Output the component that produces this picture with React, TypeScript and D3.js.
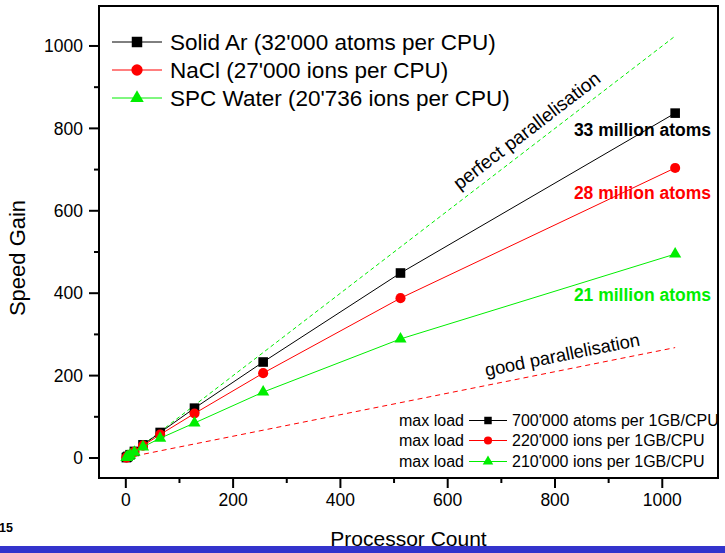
import React from 'react';
import * as d3 from 'd3';

const cpus = [1, 2, 4, 8, 16, 32, 64, 128, 256, 512, 1024];
const solidAr = [1, 2, 4, 8, 16, 32, 62, 121, 233, 449, 837];
const nacl = [1, 2, 4, 8, 15, 30, 57, 108, 206, 388, 704];
const water = [1, 2, 4, 7, 14, 27, 48, 85, 160, 289, 495];

const perfectX = [1, 1024];
const perfectY = [1, 1024];
const goodX = [1, 1024];
const goodY = [1, 268];

const xTicks = [0, 200, 400, 600, 800, 1000];
const yTicks = [0, 200, 400, 600, 800, 1000];

const seriesNames = [
  "Solid Ar (32'000 atoms per CPU)",
  "NaCl (27'000 ions per CPU)",
  "SPC Water (20'736 ions per CPU)",
];
const maxLoadNames = [
  "700'000 atoms per 1GB/CPU",
  "220'000 ions per 1GB/CPU",
  "210'000 ions per 1GB/CPU",
];
const totalLabels = ['33 million atoms', '28 million atoms', '21 million atoms'];

const FONT = 'Liberation Sans, Arial, sans-serif';

const App = () => {
  const width = 725;
  const height = 553;
  const box = { left: 99, right: 718, top: 6, bottom: 478 };

  const x = d3.scaleLinear().domain([-50, 1102]).range([box.left, box.right - 1]);
  const y = d3.scaleLinear().domain([-48.5, 1097]).range([box.bottom, box.top]);

  const colors = ['#000000', '#ff0000', '#00ee00'];
  const symbols = [d3.symbolSquare, d3.symbolCircle, d3.symbolTriangle];
  const sizes = [92, 80, 64];
  const series = [solidAr, nacl, water];

  const line = d3.line<[number, number]>()
    .x(d => x(d[0]))
    .y(d => y(d[1]));

  const pts = (xs: number[], ys: number[]) => xs.map((v, i) => [v, ys[i]] as [number, number]);

  const angleOf = (xs: number[], ys: number[]) =>
    (Math.atan2(y(ys[1]) - y(ys[0]), x(xs[1]) - x(xs[0])) * 180) / Math.PI;
  const perfAngle = angleOf(perfectX, perfectY);
  const goodAngle = angleOf(goodX, goodY);
  const goodSlope = goodY[1] / goodX[1];

  const minorX = d3.range(100, 1100, 200);
  const minorY = d3.range(100, 1100, 200);

  return (
    <svg width={width} height={height} style={{ position: 'absolute', left: 0, top: 0 }} fontFamily={FONT}>
      <rect width={width} height={height} fill="#fff" />

      {/* reference lines */}
      <path d={line(pts(perfectX, perfectY)) || ''} fill="none" stroke="#00ee00" strokeWidth={1} strokeDasharray="4,3" />
      <path d={line(pts(goodX, goodY)) || ''} fill="none" stroke="#ff0000" strokeWidth={1} strokeDasharray="5,4" />

      <g transform={`translate(${x(632)},${y(632)}) rotate(${perfAngle})`}>
        <text x={0} y={-9} fontSize={19}>perfect parallelisation</text>
      </g>
      <g transform={`translate(${x(675)},${y(675 * goodSlope)}) rotate(${goodAngle})`}>
        <text x={0} y={-9} fontSize={18.3}>good parallelisation</text>
      </g>

      {/* series */}
      {series.map((s, i) => (
        <g key={`s-${i}`}>
          <path d={line(pts(cpus, s)) || ''} fill="none" stroke={colors[i]} strokeWidth={1} />
          {s.map((v, j) => (
            <path
              key={j}
              transform={`translate(${x(cpus[j])},${y(v)})`}
              d={d3.symbol().type(symbols[i]).size(sizes[i])() || ''}
              fill={colors[i]}
            />
          ))}
        </g>
      ))}

      {totalLabels.map((t, i) => (
        <text key={t} x={711} y={[136, 199, 301][i]} textAnchor="end" fontSize={17.5} fontWeight="bold" fill={colors[i]}>
          {t}
        </text>
      ))}

      {/* top legend */}
      {seriesNames.map((n, i) => {
        const ry = 42 + i * 28;
        return (
          <g key={n}>
            <line x1={112} x2={162} y1={ry} y2={ry} stroke={colors[i]} strokeWidth={1} />
            <path transform={`translate(137,${ry})`} d={d3.symbol().type(symbols[i]).size([110, 100, 80][i])() || ''} fill={colors[i]} />
            <text x={170} y={ry + 8} fontSize={22.5}>{n}</text>
          </g>
        );
      })}

      {/* bottom legend */}
      {maxLoadNames.map((n, i) => {
        const ry = [420.5, 440.5, 461.5][i];
        return (
          <g key={n}>
            <text x={399} y={ry + 5.5} fontSize={16}>max load</text>
            <line x1={469} x2={507} y1={ry} y2={ry} stroke={colors[i]} strokeWidth={1} />
            <path transform={`translate(488,${ry})`} d={d3.symbol().type(symbols[i]).size([56, 52, 48][i])() || ''} fill={colors[i]} />
            <text x={512} y={ry + 5.5} fontSize={16}>{n}</text>
          </g>
        );
      })}

      {/* frame */}
      <rect x={box.left} y={box.top} width={box.right - box.left} height={box.bottom - box.top} fill="none" stroke="#000" strokeWidth={2} />
      <rect x={0} y={0} width={width} height={box.top - 1} fill="#fff" />

      {/* y axis */}
      {yTicks.map(t => (
        <g key={`yt-${t}`}>
          <line x1={box.left - 10} x2={box.left} y1={y(t)} y2={y(t)} stroke="#000" strokeWidth={2} />
          <text x={83} y={y(t)} dy="0.36em" textAnchor="end" fontSize={17.5}>{t}</text>
        </g>
      ))}
      {minorY.map(t => (
        <line key={`ym-${t}`} x1={box.left - 5} x2={box.left} y1={y(t)} y2={y(t)} stroke="#000" strokeWidth={2} />
      ))}

      {/* x axis */}
      {xTicks.map(t => (
        <g key={`xt-${t}`}>
          <line x1={x(t)} x2={x(t)} y1={box.bottom} y2={box.bottom + 10} stroke="#000" strokeWidth={2} />
          <text x={x(t)} y={506} textAnchor="middle" fontSize={17.5}>{t}</text>
        </g>
      ))}
      {minorX.map(t => (
        <line key={`xm-${t}`} x1={x(t)} x2={x(t)} y1={box.bottom} y2={box.bottom + 5} stroke="#000" strokeWidth={2} />
      ))}

      <text transform={`translate(25,258) rotate(-90)`} textAnchor="middle" fontSize={22}>Speed Gain</text>
      <text x={(box.left + box.right) / 2} y={546} textAnchor="middle" fontSize={21}>Processor Count</text>

      <text x={-1} y={532} fontSize={12.5} fontWeight="bold">15</text>
      <rect x={0} y={546} width={width} height={height - 546} fill="#3333cc" />
    </svg>
  );
};

export default App;
